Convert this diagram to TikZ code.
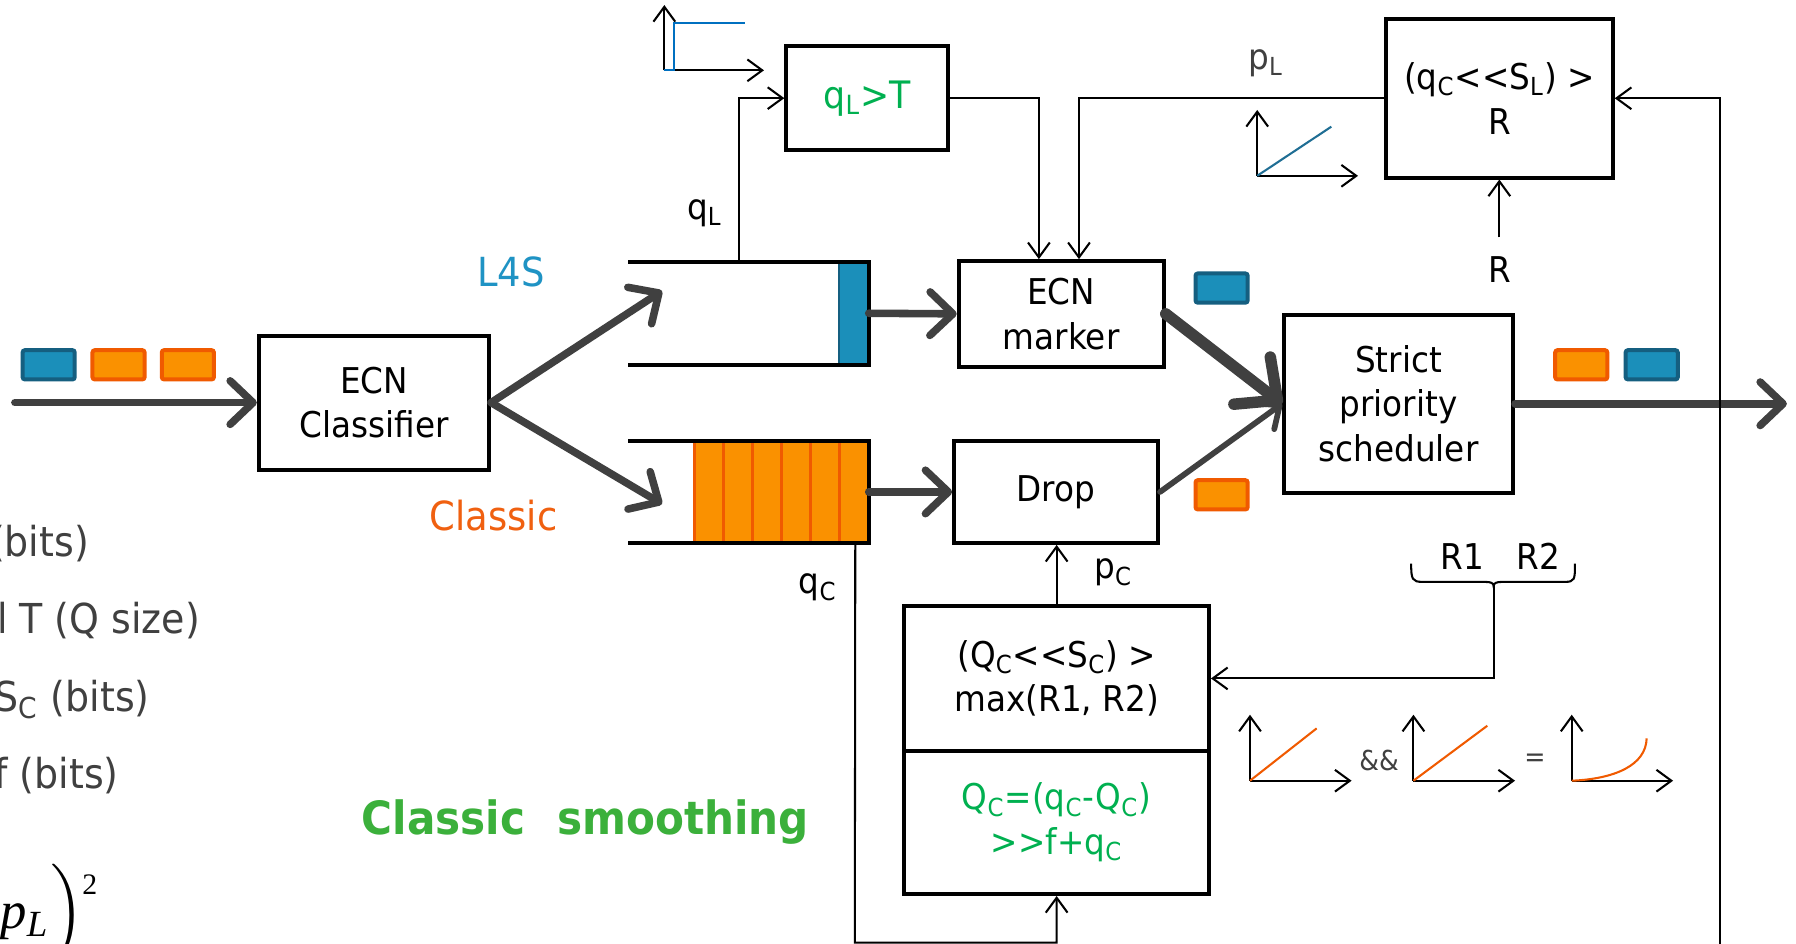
\documentclass[tikz,border=0pt]{standalone}
\usepackage{fix-cm}
\usepackage{amsmath}
\usepackage{fontspec}
\setmainfont{DejaVu Sans}[Ligatures=TeXOff,FakeStretch=0.92]
\newfontfamily\timesfont{Liberation Serif}
\usetikzlibrary{arrows.meta,calc}

\definecolor{arrowgrey}{HTML}{404040}
\definecolor{labelgrey}{HTML}{404040}
\definecolor{pktblue}{HTML}{1B8FBA}
\definecolor{pktblueedge}{HTML}{155F80}
\definecolor{pktorange}{HTML}{FA9100}
\definecolor{pktorangeedge}{HTML}{F05A00}
\definecolor{lfsblue}{HTML}{1F93C4}
\definecolor{classicorange}{HTML}{F06010}
\definecolor{formulagreen}{HTML}{00B050}
\definecolor{smoothgreen}{HTML}{3BB03B}
\definecolor{stepblue}{HTML}{0070C0}
\definecolor{rampblue}{HTML}{1F6E94}
\definecolor{curveorange}{HTML}{F05A00}

\newcommand\lsub[1]{\textsubscript{#1}}
\newcommand\boxsize{\fontsize{15.5}{19.5}\selectfont}
\newcommand\leftsize{\fontsize{18}{22}\selectfont}

\begin{document}
\begin{tikzpicture}[x=0.5pt,y=-0.5pt,
  box/.style={draw=black, line width=1.75pt, inner sep=0pt, align=center, font=\boxsize},
  lbl/.style={inner sep=0pt, font=\boxsize},
  flow/.style={draw=arrowgrey, line width=3.3pt, line cap=round,
    -{Straight Barb[length=10pt,width=19pt,line cap=round,line join=round]}},
  sigline/.style={draw=black, line width=0.9pt, -{Straight Barb[length=6.5pt,width=9.5pt]}},
  axisline/.style={draw=black, line width=0.9pt, -{Straight Barb[length=6.5pt,width=9.5pt]}},
  pkt/.style={minimum width=22.75pt, minimum height=12.75pt, inner sep=0pt, line width=1.75pt, rounded corners=1pt},
  bluepkt/.style={pkt, fill=pktblue, draw=pktblueedge},
  orangepkt/.style={pkt, fill=pktorange, draw=pktorangeedge},
  wall/.style={draw=black, line width=1.75pt},
  queue/.style={inner sep=0pt, minimum width=104.5pt, minimum height=44.5pt},
]
\fill[white] (0,0) rectangle (1568,824);
\useasboundingbox (0,0) rectangle (1568,824);

% ---------- incoming traffic ----------
\node[bluepkt] (in1) at (42.5,318.5) {};
\node[orangepkt] (in2) at (103.5,318.5) {};
\node[orangepkt] (in3) at (164,318.5) {};
\coordinate (src) at (13,351.5);

\node[box, minimum width=100.5pt, minimum height=58.5pt] (cls) at (326.5,351.5) {ECN\\Classifier};
\draw[flow] (src) -- (cls.west);

% ---------- queues ----------
\node[queue] (lq) at (653.5,273.5) {};
\node[queue] (cq) at (653.5,429.5) {};

\fill[pktblue] ([xshift=-13pt]lq.north east) rectangle (lq.south east);
\draw[pktblueedge, line width=1.2pt] ([xshift=-13pt]lq.north east) -- ([xshift=-13pt]lq.south east);

\fill[pktorange] ([xshift=-76pt]cq.north east) rectangle (cq.south east);
\foreach \k in {0,...,5}
  \draw[pktorangeedge, line width=1.5pt] ([xshift={\k*12.667pt-76pt}]cq.north east) -- ([xshift={\k*12.667pt-76pt}]cq.south east);

\draw[wall] (lq.north west) -- (lq.north east) -- (lq.south east) -- (lq.south west);
\draw[wall] (cq.north west) -- (cq.north east) -- (cq.south east) -- (cq.south west);

\coordinate (lqin) at (578,254);
\coordinate (cqin) at (578,440);
\draw[flow] (cls.east) -- (lqin);
\draw[flow] (cls.east) -- (cqin);

\node[inner sep=0pt, font=\fontsize{17.5}{21}\selectfont, text=lfsblue] (l4s) at (446,237) {L4S};
\node[inner sep=0pt, font=\fontsize{17.5}{21}\selectfont, text=classicorange] (clas) at (431,450) {Classic};

% ---------- marker, drop, scheduler ----------
\node[box, minimum width=89.5pt, minimum height=46pt] (mark) at (926.5,274) {ECN\\marker};
\node[box, minimum width=89pt, minimum height=44.5pt] (drop) at (922,429.5) {Drop};
\draw[flow] (lq.east) -- (mark.west);
\draw[flow] (cq.east) -- (drop.west);

\node[box, minimum width=100pt, minimum height=77.5pt] (sched) at (1221,352.5) {Strict\\priority\\scheduler};
\draw[flow, line width=5pt, -{Straight Barb[length=14pt,width=26pt,line cap=round,line join=round]}] (mark.east) -- (sched.west);
\draw[flow, line width=2.5pt, -{Straight Barb[length=8pt,width=14pt,line cap=round,line join=round]}] (drop.east) -- (sched.west);

\node[bluepkt] (mk1) at (1066.5,251.5) {};
\node[orangepkt] (dr1) at (1066.5,432) {};
\node[orangepkt] (out1) at (1380.5,318.5) {};
\node[bluepkt] (out2) at (1442,318.5) {};
\coordinate (sink) at (1560,352.5);
\draw[flow] (sched.east) -- (sink);

% ---------- L4S threshold marking ----------
\node[box, minimum width=70.5pt, minimum height=45.5pt, text=formulagreen, font=\fontsize{16.5}{20}\selectfont] (qlt) at (757,85.7) {q\lsub{L}>T};
\coordinate (qltap) at (645.2,229.5);
\draw[sigline] (qltap) |- (qlt.west);
\node[lbl] (qllab) at (615,186) {q\lsub{L}};

\draw[axisline] (580,61.4) -- (580,4.4);
\draw[axisline] (580,61.4) -- (667,61.4);
\draw[stepblue, line width=0.9pt] (580,61.4) -- (588.4,61.4) -- (588.4,19.8) -- (650.4,19.8);

\draw[sigline] (qlt.east) -| ([xshift=-9.75pt]mark.north);

% ---------- coupling from classic queue ----------
\node[box, minimum width=99pt, minimum height=69.2pt] (plbox) at (1309,85.8) {(q\lsub{C}<<S\lsub{L}) >\\R};
\draw[sigline] (plbox.west) -| ([xshift=7.75pt]mark.north);
\node[lbl, text=labelgrey] (pllab) at (1105,55) {p\lsub{L}};

\draw[axisline] (1097.6,153.5) -- (1097.6,96);
\draw[axisline] (1097.6,153.5) -- (1185.6,153.5);
\draw[rampblue, line width=0.9pt] (1097.6,153.5) -- (1162.3,110.6);

\node[lbl] (rin) at (1309,235) {R};
\draw[sigline] ([yshift=8pt]rin.north) -- (rin.north |- plbox.south);

\coordinate (fbin) at (1502,826);
\draw[sigline] (fbin) |- (plbox.east);

% ---------- classic drop probability ----------
\node[box, minimum width=133pt, minimum height=63.3pt] (cmp) at (922.5,592.3) {(Q\lsub{C}<<S\lsub{C}) >\\max(R1, R2)};
\node[box, minimum width=133pt, minimum height=62.4pt, text=formulagreen] (smooth) at (922.5,718.1) {Q\lsub{C}=(q\lsub{C}-Q\lsub{C})\\>>f+q\lsub{C}};
\draw[sigline] (cmp.north) -- (cmp.north |- drop.south);
\node[lbl] (pclab) at (972,500) {p\lsub{C}};
\node[lbl] (qclab) at (714,513) {q\lsub{C}};

\coordinate (loopc) at (746.3,823);
\draw[sigline] ([xshift=-5.85pt]cq.south east) -- (loopc) -| (smooth.south);

\node[lbl] (rr) at (1310,486) {R1\hspace{14pt}R2};
\coordinate (bt) at (1304,512);
\draw[line width=0.9pt] (1232,492) .. controls (1232,506) and (1233,508) .. (1242,508) -- (1296,508)
  .. controls (1302,508) and (1304,509) .. (bt)
  .. controls (1304,509) and (1306,508) .. (1312,508) -- (1366,508)
  .. controls (1375,508) and (1375,506) .. (1375,492);
\draw[sigline] (bt) |- (cmp.east);

% ---------- ramp product sketches ----------
\draw[axisline] (1091.3,681.6) -- (1091.3,624);
\draw[axisline] (1091.3,681.6) -- (1180,681.6);
\draw[curveorange, line width=0.9pt] (1091.3,681.6) -- (1149.5,635.9);
\node[inner sep=0pt, text=labelgrey, font=\fontsize{12}{14}\selectfont] (andand) at (1204,664) {\&\&};

\draw[axisline] (1234,681.6) -- (1234,624);
\draw[axisline] (1234,681.6) -- (1322.7,681.6);
\draw[curveorange, line width=0.9pt] (1234,681.6) -- (1298.5,633.6);
\node[inner sep=0pt, text=labelgrey, font=\fontsize{12}{14}\selectfont] (eqs) at (1340,663.5) {=};

\draw[axisline] (1372.2,681.6) -- (1372.2,624);
\draw[axisline] (1372.2,681.6) -- (1460.7,681.6);
\draw[curveorange, line width=0.9pt] (1372.2,681.6) .. controls (1410,680) and (1437,668) .. (1437.6,644.6);

% ---------- parameter notes ----------
\node[anchor=base east, inner sep=0pt, text=labelgrey, font=\leftsize] (t1) at (78,486) {(bits)};
\node[anchor=base east, inner sep=0pt, text=labelgrey, font=\leftsize] (t2) at (175,553) {l T (Q size)};
\node[anchor=base east, inner sep=0pt, text=labelgrey, font=\leftsize] (t3) at (131,621) {S\lsub{C} (bits)};
\node[anchor=base east, inner sep=0pt, text=labelgrey, font=\leftsize] (t4) at (104,688) {f (bits)};
\node[anchor=base west, inner sep=0pt, font=\fontsize{23}{27}\selectfont] (sq) at (0,811)
  {\timesfont\itshape p\textsubscript{L}\hspace{1pt}\upshape$\Bigr)$\hspace{-1pt}\raisebox{15pt}{\fontsize{13}{15}\selectfont 2}};

\node[inner sep=0pt, text=smoothgreen, font=\fontsize{20}{24}\selectfont\bfseries] (cs) at (511,718) {Classic\hspace{0.7em}smoothing};
\end{tikzpicture}
\end{document}
